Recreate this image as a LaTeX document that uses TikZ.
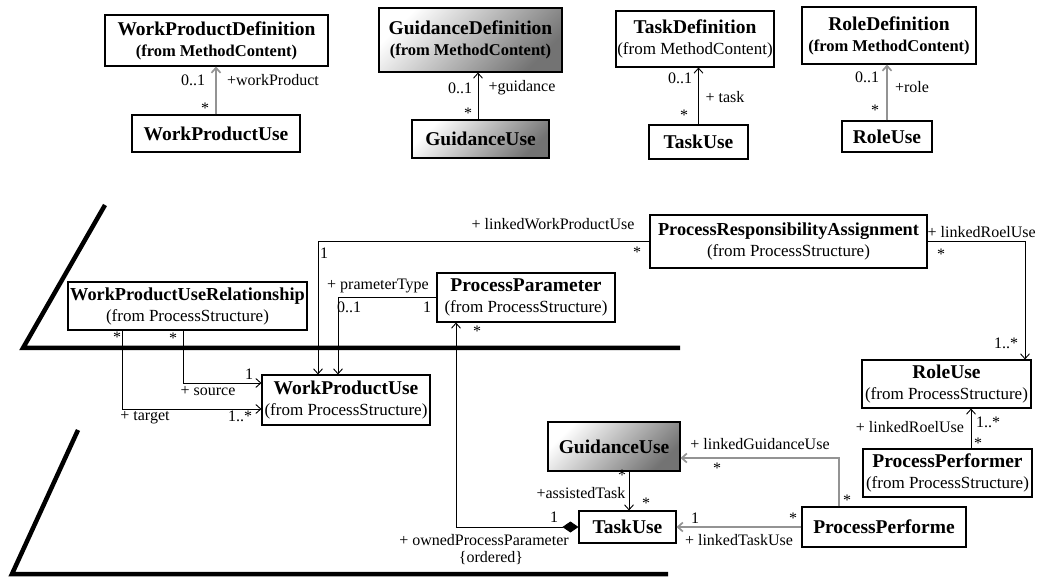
\documentclass[tikz,border=0pt]{standalone}
\usepackage{fontspec}
\setmainfont{Liberation Serif}
\usetikzlibrary{arrows.meta,calc}

\newcommand{\clsname}[1]{{\fontsize{19.5}{21}\selectfont\bfseries #1}}
\newcommand{\clsnames}[1]{{\fontsize{18.3}{21}\selectfont\bfseries #1}}
\newcommand{\clsfrom}[1]{{\fontsize{17}{21}\selectfont (from #1)}}
\newcommand{\clsfromb}[1]{{\fontsize{16.5}{21}\selectfont\bfseries (from #1)}}

\begin{document}
\begin{tikzpicture}
  [x=1pt, y=-1pt,
  class/.style 2 args={
    rectangle,
    draw,
    line width=1.1pt,
    align=center,
    inner sep=1pt,
    font=\fontsize{17}{21}\selectfont,
    minimum width=#1,
    minimum height=#2
    },
  shadedclass/.style={
    top color=white,
    bottom color=black!55,
    shading angle=45
    },
  lbl/.style={font=\fontsize{16}{18}\selectfont, inner sep=0pt},
  assoc/.style={-{Straight Barb[length=5pt,width=9pt]}, line width=0.9pt},
  assocg/.style={assoc, draw=gray!85, line width=1.7pt},
  package/.style={line width=4.5pt, line join=miter}
  ]
  \useasboundingbox (0,0) rectangle (1037,577);

  % riga superiore: definizioni
  \node [class={223pt}{51pt}] (wpdef) at (216.5,40.5)
    {\clsname{WorkProductDefinition}\\\clsfromb{MethodContent}};
  \node [class={168pt}{37pt}] (wpuse) at (216,133.5) {\clsname{WorkProductUse}};

  \node [class={183pt}{64pt}, shadedclass] (gdef) at (470.5,40)
    {\clsname{GuidanceDefinition}\\\clsfromb{MethodContent}};
  \node [class={137pt}{38pt}, shadedclass] (guse) at (480.5,139) {\clsname{GuidanceUse}};

  \node [class={158pt}{56pt}] (tdef) at (695,39)
    {\clsname{TaskDefinition}\\\clsfrom{MethodContent}};
  \node [class={99pt}{34pt}] (tuse) at (698.5,142) {\clsname{TaskUse}};

  \node [class={174pt}{57pt}] (rdef) at (889,35.5)
    {\clsname{RoleDefinition}\\\clsfromb{MethodContent}};
  \node [class={90pt}{31pt}] (ruse) at (887,136.5) {\clsname{RoleUse}};

  \draw[assocg] (wpuse.north) -- (wpuse.north |- wpdef.south);
  \draw[assoc] ([xshift=-2.5pt]guse.north) -- ([xshift=-2.5pt]guse.north |- gdef.south);
  \draw[assoc] (tuse.north) -- (tuse.north |- tdef.south);
  \draw[assocg] (ruse.north) -- (ruse.north |- rdef.south);

  \node[lbl] (wpmult) at (193,80) {0..1};
  \node[lbl] (wprole) at (273,80) {+workProduct};
  \node[lbl] (wpstar) at (205,108) {*};
  \node[lbl] (gmult) at (460,88) {0..1};
  \node[lbl] (grole) at (522,88) {+guidance};
  \node[lbl] (gstar) at (468,113) {*};
  \node[lbl] (tmult) at (680,78) {0..1};
  \node[lbl] (trole) at (725,97) {+ task};
  \node[lbl] (tstar) at (684,115) {*};
  \node[lbl] (rmult) at (867,77) {0..1};
  \node[lbl] (rrole) at (912,87) {+role};
  \node[lbl] (rstar) at (875,110) {*};

  % i due package
  \draw[package] (105,205) -- (23,348) -- (680,348);
  \draw[package] (78,430) -- (12,574) -- (668,574);

  % struttura del processo
  \node [class={277pt}{53pt}] (pra) at (788.5,241.5)
    {\clsnames{ProcessResponsibilityAssignment}\\\clsfrom{ProcessStructure}};
  \node [class={178pt}{49pt}] (pparam) at (526,297.5)
    {\clsname{ProcessParameter}\\\clsfrom{ProcessStructure}};
  \node [class={239pt}{48pt}] (wpurel) at (187.5,306)
    {\clsnames{WorkProductUseRelationship}\\\clsfrom{ProcessStructure}};
  \node [class={168pt}{50pt}] (wpu) at (346,400)
    {\clsname{WorkProductUse}\\\clsfrom{ProcessStructure}};
  \node [class={169pt}{48pt}] (roleu) at (946.5,384)
    {\clsname{RoleUse}\\\clsfrom{ProcessStructure}};
  \node [class={169pt}{48pt}] (pperformer) at (947.5,473)
    {\clsname{ProcessPerformer}\\\clsfrom{ProcessStructure}};
  \node [class={132pt}{49pt}, shadedclass] (guse2) at (614,446.5) {\clsname{GuidanceUse}};
  \node [class={97pt}{32pt}] (tuse2) at (627.5,527) {\clsname{TaskUse}};
  \node [class={164pt}{40pt}] (pperforme) at (884,527) {\clsname{ProcessPerforme}};

  \draw[assoc] (pra.west) -| ([xshift=-28pt]wpu.north);
  \draw[assoc] (pparam.west) -| ([xshift=-8pt]wpu.north);
  \draw[assoc] ([xshift=-65.5pt]wpurel.south) |- ([yshift=-9pt]wpu.west);
  \draw[assoc] ([xshift=-4.5pt]wpurel.south) |- ([yshift=17pt]wpu.west);
  \draw[assoc] (pra.east) -| ([xshift=78.5pt]roleu.north);
  \draw[assoc] ([xshift=23.5pt]pperformer.north) -- ([xshift=23.5pt]pperformer.north |- roleu.south);
  \draw[assocg] ([xshift=-45pt]pperforme.north) |- ([yshift=-11.5pt]guse2.east);
  \draw[assocg] (pperforme.west) -- (tuse2.east);
  \draw[assoc] ([xshift=15pt]guse2.south) -- ([xshift=15pt]guse2.south |- tuse2.north);
  \draw[{Diamond[length=16pt,width=11pt]}-{Straight Barb[length=5pt,width=9pt]}, line width=0.9pt]
    (tuse2.west) -| ([xshift=-70pt]pparam.south);

  \node[lbl] (lwpu) at (553,224) {+ linkedWorkProductUse};
  \node[lbl] (lwpustar) at (637,252) {*};
  \node[lbl] (lwpuone) at (324,253) {1};
  \node[lbl] (ptype) at (378,286) {+ prameterType};
  \node[lbl] (ptypemult) at (349,307) {0..1};
  \node[lbl] (ptypeone) at (427,307) {1};
  \node[lbl] (pparamstar) at (477,331) {*};
  \node[lbl] (tgtstar) at (117,337) {*};
  \node[lbl] (srcstar) at (173,338) {*};
  \node[lbl] (srcone) at (249,374) {1};
  \node[lbl] (src) at (208,391) {+ source};
  \node[lbl] (tgt) at (145,418) {+ target};
  \node[lbl] (tgtmult) at (240,416) {1..*};
  \node[lbl, anchor=east] (lru) at (1036,232) {+ linkedRoelUse};
  \node[lbl] (lrustar) at (941,254) {*};
  \node[lbl] (lrumult) at (1006,343) {1..*};
  \node[lbl] (lru2) at (910,427) {+ linkedRoelUse};
  \node[lbl] (lru2mult) at (988,422) {1..*};
  \node[lbl] (lru2star) at (978,443) {*};
  \node[lbl] (lgu) at (760,444) {+ linkedGuidanceUse};
  \node[lbl] (lgustar) at (717,468) {*};
  \node[lbl] (lgustar2) at (847,500) {*};
  \node[lbl] (ltustar) at (793,518) {*};
  \node[lbl] (ltuone) at (695,518) {1};
  \node[lbl] (ltu) at (739,540) {+ linkedTaskUse};
  \node[lbl] (atstar) at (622,475) {*};
  \node[lbl] (at) at (581,493) {+assistedTask};
  \node[lbl] (atstar2) at (646,503) {*};
  \node[lbl] (oppone) at (554,517) {1};
  \node[lbl] (opp) at (484,540) {+ ownedProcessParameter};
  \node[lbl] (oppord) at (491,558) {\{ordered\}};
\end{tikzpicture}
\end{document}
